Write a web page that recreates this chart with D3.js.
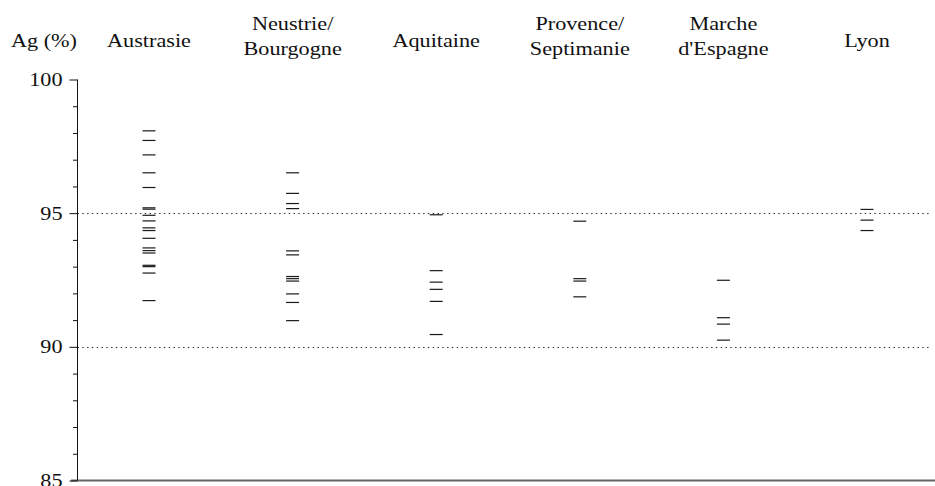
<!DOCTYPE html>
<html><head><meta charset="utf-8">
<script src="https://cdn.jsdelivr.net/npm/d3@7"></script>
<style>
html,body{margin:0;padding:0;background:#fff;}
</style></head>
<body>
<svg id="chart" width="935" height="486"></svg>
<script>
const categories = ["Austrasie", "Neustrie/\nBourgogne", "Aquitaine", "Provence/\nSeptimanie", "Marche\nd'Espagne", "Lyon"];
const austrasie = [98.08, 97.72, 97.18, 96.51, 95.96, 95.20, 95.15, 94.92, 94.71, 94.45, 94.35, 94.06, 93.70, 93.60, 93.51, 93.05, 93.00, 92.76, 91.73];
const neustrie = [96.51, 95.74, 95.36, 95.17, 93.59, 93.44, 92.63, 92.55, 92.46, 91.98, 91.66, 90.98];
const aquitaine = [94.94, 92.85, 92.42, 92.15, 91.70, 90.46];
const provence = [94.70, 92.55, 92.46, 91.87];
const marche = [92.49, 91.09, 90.85, 90.25];
const lyon = [95.14, 94.74, 94.35];
const seriesValues = [austrasie, neustrie, aquitaine, provence, marche, lyon];
const yAxisTitle = "Ag (%)";
const majorTicks = [85, 90, 95, 100];
const minorTicks = [86, 87, 88, 89, 91, 92, 93, 94, 96, 97, 98, 99];
const gridValues = [90, 95];

const FONT = "'Liberation Serif', 'Times New Roman', Times, 'DejaVu Serif', serif";
const svg = d3.select("#chart").attr("font-family", FONT);
const axisX = 77.5;
const x = d3.scalePoint().domain(categories).range([149, 867]);
const y = d3.scaleLinear().domain([85, 100]).range([480.5, 79.5]);
const sx = 1.17;

// gridlines
svg.append("g").selectAll("line").data(gridValues).join("line")
  .attr("x1", axisX).attr("x2", 930)
  .attr("y1", d => Math.round(y(d)) + 0.5).attr("y2", d => Math.round(y(d)) + 0.5)
  .attr("stroke", "#333").attr("stroke-width", 1.2).attr("stroke-dasharray", "1.5,3.3");

// bottom line
svg.append("line").attr("x1", 71).attr("x2", 935)
  .attr("y1", y(85)).attr("y2", y(85)).attr("stroke", "#666").attr("stroke-width", 2);

// y axis
const yAxis = d3.axisLeft(y).tickValues(majorTicks).tickSize(8).tickPadding(7).tickFormat(d3.format("d"));
const gy = svg.append("g").attr("transform", `translate(${axisX},0)`).call(yAxis);
gy.attr("font-family", FONT).attr("font-size", 19);
gy.select(".domain").attr("stroke", "#111").attr("d", `M0,${y(100)}V${y(85)}`);
gy.selectAll(".tick line").attr("stroke", "#111");
gy.selectAll(".tick text").attr("fill", "#111")
  .style("font-family", FONT).style("font-size", "19px")
  .each(function() {
    const t = d3.select(this);
    const xx = +t.attr("x");
    t.attr("x", null).attr("transform", `translate(${xx},0) scale(${sx},1)`);
  });
const minorAxis = d3.axisLeft(y).tickValues(minorTicks).tickSize(4.5).tickFormat("");
const gm = svg.append("g").attr("transform", `translate(${axisX},0)`).call(minorAxis);
gm.select(".domain").remove();
gm.selectAll(".tick line").attr("stroke", "#111");

// axis title
svg.append("text").attr("transform", `translate(11,47) scale(${sx},1)`)
  .style("font-family", FONT).style("font-size", "19px").attr("fill", "#111").text(yAxisTitle);

// category labels
categories.forEach(c => {
  const lines = c.split("\n");
  const t = svg.append("text").attr("text-anchor", "middle")
    .attr("transform", `translate(${x(c)},${lines.length === 1 ? 47 : 30}) scale(${sx},1)`)
    .style("font-family", FONT).style("font-size", "19px").attr("fill", "#111");
  lines.forEach((l, i) => t.append("tspan").attr("x", 0).attr("y", i * 25).text(l));
});

// dashes
const half = 6.5;
categories.forEach((c, i) => {
  svg.append("g").selectAll("line").data(seriesValues[i]).join("line")
    .attr("x1", x(c) - half).attr("x2", x(c) + half)
    .attr("y1", d => y(d)).attr("y2", d => y(d))
    .attr("stroke", "#1a1a1a").attr("stroke-width", 1.2);
});
</script>
</body></html>
